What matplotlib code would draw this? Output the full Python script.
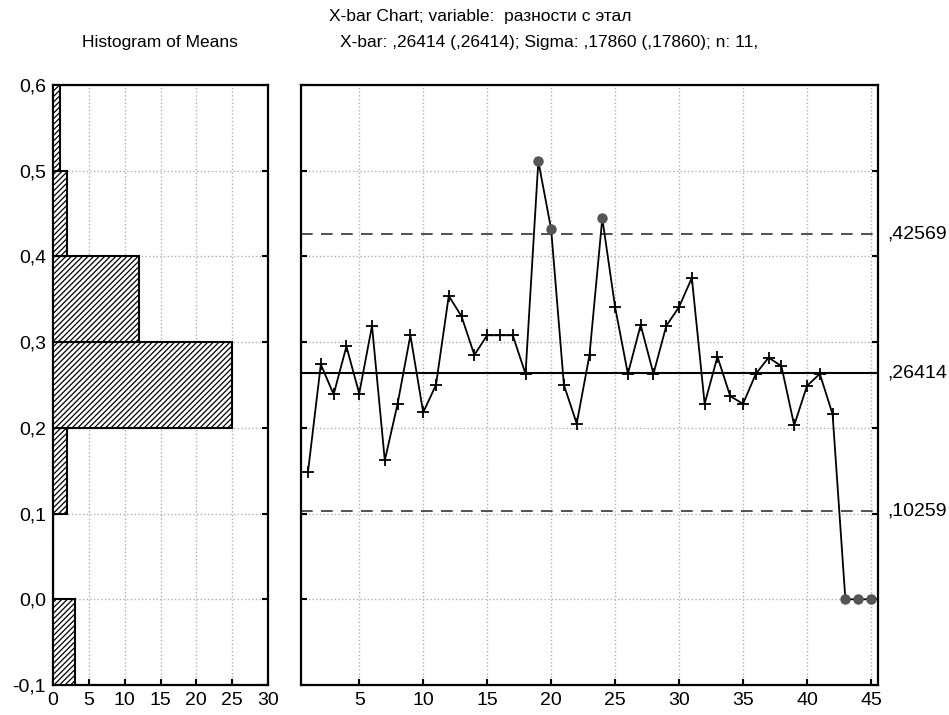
import matplotlib
matplotlib.use('Agg')
import matplotlib.pyplot as plt
import numpy as np

# sample means (45 subgroups, n = 11)
sample_no = np.arange(1, 46)
means = [0.149, 0.274, 0.239, 0.295, 0.240, 0.319, 0.162, 0.228, 0.308, 0.218,
         0.250, 0.354, 0.330, 0.285, 0.308, 0.308, 0.308, 0.263, 0.511, 0.432,
         0.250, 0.205, 0.285, 0.4445, 0.341, 0.263, 0.320, 0.263, 0.319, 0.341,
         0.375, 0.228, 0.283, 0.237, 0.228, 0.263, 0.282, 0.272, 0.203, 0.249,
         0.263, 0.216, 0.0, 0.0, 0.0]

# control limits
ucl = 0.42569
center = 0.26414
lcl = 0.10259
limit_labels = [',42569', ',26414', ',10259']

# histogram of means
bin_lo = [-0.1, 0.0, 0.1, 0.2, 0.3, 0.4, 0.5]
bin_counts = [3, 0, 2, 25, 12, 2, 1]

ytick_vals = [-0.1, 0.0, 0.1, 0.2, 0.3, 0.4, 0.5, 0.6]
ytick_labels = ['-0,1', '0,0', '0,1', '0,2', '0,3', '0,4', '0,5', '0,6']

plt.rcParams['font.family'] = ['Liberation Sans', 'DejaVu Sans']
plt.rcParams['hatch.linewidth'] = 0.9

fig = plt.figure(figsize=(9.49, 7.15), dpi=100)
ax_h = fig.add_axes([53 / 949, 1 - 685 / 715, 215 / 949, 600 / 715])
ax = fig.add_axes([301 / 949, 1 - 685 / 715, 577 / 949, 600 / 715])

grid_kw = dict(color='#b0b0b0', linestyle=':', linewidth=1)

# --- histogram
ax_h.barh(bin_lo, bin_counts, height=0.1, align='edge', color='white',
          edgecolor='black', hatch='//////', linewidth=1.5, zorder=3)
ax_h.set_xlim(0, 30)
ax_h.set_ylim(-0.1, 0.6)
ax_h.set_xticks(range(0, 31, 5))
ax_h.set_yticks(ytick_vals)
ax_h.set_yticklabels(ytick_labels)
ax_h.grid(True, **grid_kw)
ax_h.set_axisbelow(True)
ax_h.tick_params(direction='in', length=4, width=1.5, labelsize=14,
                 right=True, pad=5)

# --- X-bar chart
ax.plot(sample_no, means, color='black', linewidth=1.3, zorder=3)
m = np.array(means)
out = (m > ucl) | (m < lcl)
ax.plot(sample_no[~out], m[~out], linestyle='none', marker='+', color='black',
        markersize=8, markeredgewidth=1.3, zorder=4)
ax.plot(sample_no[out], m[out], linestyle='none', marker='o', color='#555555',
        markersize=6.5, zorder=4)

ax.axhline(ucl, color='#333333', linewidth=1.2, dashes=(7, 5), zorder=2)
ax.axhline(center, color='black', linewidth=1.5, zorder=2)
ax.axhline(lcl, color='#333333', linewidth=1.2, dashes=(7, 5), zorder=2)

ax.set_xlim(0.45, 45.55)
ax.set_ylim(-0.1, 0.6)
ax.set_xticks(range(5, 46, 5))
ax.set_yticks(ytick_vals)
ax.set_yticklabels([])
ax.grid(True, **grid_kw)
ax.set_axisbelow(True)
ax.tick_params(direction='in', length=4, width=1.5, labelsize=14,
               right=True, pad=5)

trans = ax.get_yaxis_transform()
for val, lab in zip([ucl, center, lcl], limit_labels):
    ax.text(1.016, val, lab, transform=trans, va='center', ha='left', fontsize=14)

for a in (ax_h, ax):
    for s in a.spines.values():
        s.set_linewidth(1.6)

fig.text(480 / 949, 1 - 17 / 715, 'X-bar Chart; variable:  разности с этал',
         ha='center', va='center', fontsize=12.5)
fig.text(160 / 949, 1 - 42 / 715, 'Histogram of Means',
         ha='center', va='center', fontsize=12.5)
fig.text(549 / 949, 1 - 42 / 715,
         'X-bar: ,26414 (,26414); Sigma: ,17860 (,17860); n: 11,',
         ha='center', va='center', fontsize=12.5)

fig.savefig('out.png', dpi=100)
